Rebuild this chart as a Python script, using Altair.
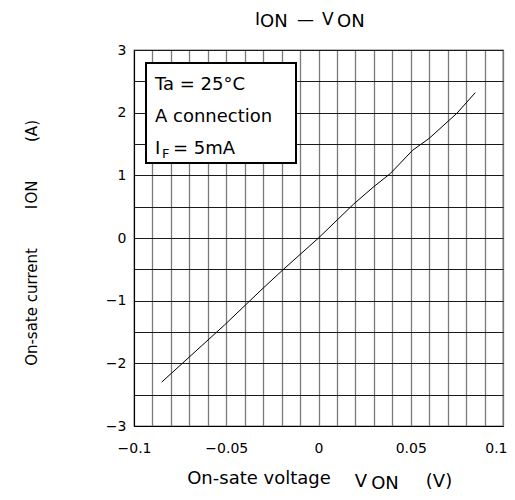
import altair as alt
import pandas as pd

# data
v_on = [-0.085, -0.051, -0.030, -0.019, 0.0, 0.019, 0.030, 0.039, 0.051, 0.060, 0.075, 0.085]
i_on = [-2.30, -1.39, -0.80, -0.50, 0.0, 0.54, 0.82, 1.03, 1.40, 1.59, 1.99, 2.32]

x_grid = [round(-0.1 + 0.01 * k, 2) for k in range(21)]
y_grid = [round(-3 + 0.5 * k, 1) for k in range(13)]

legend_lines = ["Ta = 25°C", "A connection"]

FONT = "DejaVu Sans"
W, H = 369, 376

df = pd.DataFrame({"v": v_on, "i": i_on})
one = pd.DataFrame({"a": [0]})

xscale = alt.Scale(domain=[-0.1, 0.1], nice=False, zero=False)
yscale = alt.Scale(domain=[-3, 3], nice=False, zero=False)

line = alt.Chart(df).mark_line(color="black", strokeWidth=1).encode(
    x=alt.X("v:Q", scale=xscale, title=None,
            axis=alt.Axis(values=x_grid, grid=True, gridColor="#7a7a7a", gridWidth=1.3,
                          gridOpacity=1, tickSize=0, labelPadding=15, labelFontSize=14,
                          labelFont=FONT, labelColor="black", domainColor="black",
                          labelFlush=False, labelOverlap=False,
                          labelAlign={"condition": {"test": "datum.value > 0.099", "value": "right"},
                                      "value": "center"},
                          labelOffset={"condition": {"test": "datum.value > 0.099", "value": 4},
                                       "value": 0},
                          labelExpr="round(datum.value*100) % 5 == 0 ? format(datum.value, '~g') : ''")),
    y=alt.Y("i:Q", scale=yscale, title=None,
            axis=alt.Axis(values=y_grid, grid=True, gridColor="#1a1a1a", gridWidth=1,
                          gridOpacity=1, tickSize=0, labelPadding=8, labelFontSize=14,
                          labelFont=FONT, labelColor="black", domainColor="black",
                          labelFlush=False, labelOverlap=False,
                          labelExpr="datum.value % 1 == 0 ? format(datum.value, '~g') : ''")),
)

box = alt.Chart(one).mark_rect(fill="white", stroke="black", strokeWidth=2).encode(
    x=alt.value(12), x2=alt.value(162), y=alt.value(13), y2=alt.value(113)
)

def txt(t, x, y, size, angle=0, align="left", baseline="alphabetic"):
    kw = dict(text=t, font=FONT, fontSize=size, fontWeight="normal", color="black",
              align=align, baseline=baseline)
    if angle:
        kw["angle"] = angle
    return alt.Chart(one).mark_text(**kw).encode(x=alt.value(x), y=alt.value(y))

texts = [
    txt(legend_lines[0], 21, 40, 18),
    txt(legend_lines[1], 21, 72, 18),
    txt("I", 21, 104, 18),
    txt("F", 28, 108, 13),
    txt("= 5mA", 39, 104, 18),
    # title
    txt("I", 121, -25, 17),
    txt("ON", 126, -23, 18),
    txt("—", 163, -25, 17),
    txt("V", 188, -25, 17),
    txt("ON", 203, -23, 18),
    # x title
    txt("On-sate voltage", 125, 434, 18, align="center"),
    txt("V", 227, 437, 18, align="center"),
    txt("ON", 251, 439, 18, align="center"),
    txt("(V)", 305, 437, 18, align="center"),
    # y title
    txt("On-sate current", -102, 257, 15, angle=270, align="center", baseline="middle"),
    txt("I", -102, 157, 15, angle=270, align="center", baseline="middle"),
    txt("ON", -102, 142, 15, angle=270, align="center", baseline="middle"),
    txt("(A)", -102, 81, 15, angle=270, align="center", baseline="middle"),
]

chart = alt.layer(line, box, *texts).properties(
    width=W, height=H,
    autosize=alt.AutoSizeParams(type="none"),
    padding={"left": 126, "top": 42, "right": 4, "bottom": 66},
).configure_view(stroke="#7a7a7a", strokeWidth=1.3)

chart.save("out.html", embed_options={"renderer": "svg", "actions": False})
